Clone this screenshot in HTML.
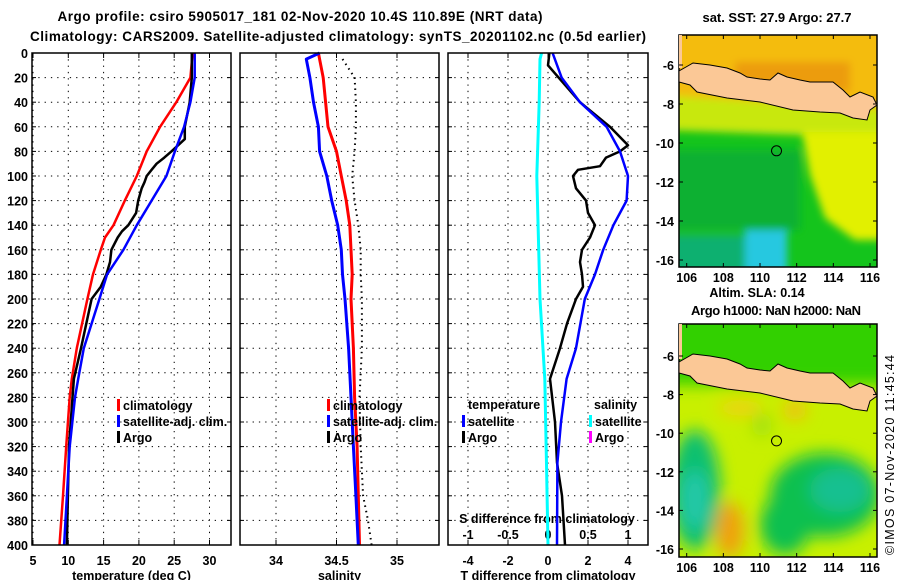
<!DOCTYPE html>
<html><head><meta charset="utf-8">
<style>
html,body{margin:0;padding:0;background:#fff;}
svg{display:block;font-family:"Liberation Sans",sans-serif;font-weight:bold;}
</style></head>
<body>
<svg id="fig" width="900" height="580" viewBox="0 0 900 580" xmlns="http://www.w3.org/2000/svg">
<defs>
<filter id="blur1" filterUnits="userSpaceOnUse" x="600" y="0" width="300" height="300"><feGaussianBlur stdDeviation="4"/></filter>
<filter id="blur2" filterUnits="userSpaceOnUse" x="600" y="290" width="300" height="290"><feGaussianBlur stdDeviation="8"/></filter>
<clipPath id="clipMap1"><rect x="679" y="35" width="198" height="232"/></clipPath>
<clipPath id="clipMap2"><rect x="679" y="324" width="198" height="233"/></clipPath>
</defs>
<text x="300" y="21" text-anchor="middle" font-size="13.5" textLength="485">Argo profile: csiro 5905017_181 02-Nov-2020 10.4S 110.89E (NRT data)</text>
<text x="338" y="41" text-anchor="middle" font-size="13.5" textLength="616">Climatology: CARS2009. Satellite-adjusted climatology: synTS_20201102.nc (0.5d earlier)</text>

<!-- Map 1 : SST -->
<g clip-path="url(#clipMap1)">
  <rect x="679" y="35" width="198" height="232" fill="#14c41c"/>
  <g filter="url(#blur1)">
    <rect x="660" y="20" width="240" height="90" fill="#f4bc10"/>
    <rect x="735" y="62" width="115" height="30" fill="#ec9c10"/>
    <polygon points="660,95 900,110 900,140 800,135 660,130" fill="#c8e810"/>
    <polygon points="802,132 900,132 900,240 855,240 825,218 810,175" fill="#e2f000"/>
    <rect x="745" y="228" width="42" height="45" fill="#28c8e0"/>
    <rect x="660" y="235" width="85" height="40" fill="#10b070"/>
    <rect x="660" y="150" width="140" height="80" fill="#08b032"/>
  </g>
</g>
<rect x="679" y="35" width="198" height="232" fill="none" stroke="#000" stroke-width="1.5"/>

<!-- Map 2 : SLA -->
<g clip-path="url(#clipMap2)">
  <rect x="679" y="324" width="198" height="233" fill="#c8f000"/>
  <g filter="url(#blur2)">
    <rect x="660" y="305" width="240" height="80" fill="#30d000"/>
    <ellipse cx="695" cy="490" rx="25" ry="60" fill="#10c070"/>
    <ellipse cx="695" cy="500" rx="14" ry="30" fill="#20c8a8"/>
    <ellipse cx="825" cy="495" rx="55" ry="42" fill="#10c050"/>
    <ellipse cx="840" cy="490" rx="30" ry="22" fill="#18c090"/>
    <ellipse cx="785" cy="525" rx="25" ry="30" fill="#10c050"/>
    <ellipse cx="730" cy="530" rx="14" ry="28" fill="#f0a010"/>
    <ellipse cx="795" cy="410" rx="12" ry="10" fill="#f0c010"/>
    <ellipse cx="740" cy="408" rx="22" ry="8" fill="#f0d010"/>
    <ellipse cx="762" cy="425" rx="10" ry="12" fill="#a0e010"/>
  </g>
</g>
<rect x="679" y="324" width="198" height="233" fill="none" stroke="#000" stroke-width="1.5"/>

<text x="777" y="22" text-anchor="middle" font-size="13" textLength="149">sat. SST: 27.9 Argo: 27.7</text>
<text x="757" y="297" text-anchor="middle" font-size="12.5">Altim. SLA: 0.14</text>
<text x="776" y="315" text-anchor="middle" font-size="13" textLength="170">Argo h1000: NaN h2000: NaN</text>
<text transform="translate(894,455) rotate(-90)" text-anchor="middle" font-size="12.5" font-weight="normal" textLength="200">©IMOS 07-Nov-2020 11:45:44</text>

<g id="plots"></g>
</svg>
<script>
// ---------- data ----------
const depthTicks = [0,20,40,60,80,100,120,140,160,180,200,220,240,260,280,300,320,340,360,380,400];
const tempTicks = [5,10,15,20,25,30];
const salTicks = [34,34.5,35];
const salTickLabels = ["34","34.5","35"];
const tdiffTicks = [-4,-2,0,2,4];
const sdiffTicks = [-1,-0.5,0,0.5,1];
const sdiffTickLabels = ["-1","-0.5","0","0.5","1"];

const tClimDepth = [0,20,40,60,80,100,120,140,150,160,180,200,240,265,280,320,360,400];
const tClim      = [27.6,27.3,25.3,23,21.1,19.7,18,16.4,15.2,14.6,13.5,12.7,11.2,10.5,10.2,9.7,9.25,8.75];
const tSatDepth  = [0,20,40,60,80,100,120,140,160,180,200,240,265,280,320,360,400];
const tSat       = [27.9,27.9,27.3,26.4,25.1,23.9,21.8,19.7,17.8,15.5,14.4,12.2,11.4,10.95,10.2,9.8,9.4];
const tArgoDepth = [0,20,40,60,70,80,85,90,95,100,105,110,120,130,140,145,150,160,170,180,190,200,240,265,280,320,360,400];
const tArgo      = [27.5,27.5,27.2,26.5,26.5,24.6,23.6,22.5,21.8,21.1,20.8,20.4,19.9,19.6,18.5,17.6,17,16.1,15.9,15.4,14.6,13.3,11.8,10.8,10.6,10.1,9.95,9.8];

const sClimDepth = [0,20,40,60,80,100,120,140,160,180,200,240,280,320,360,400];
const sClim      = [34.35,34.39,34.41,34.43,34.5,34.54,34.58,34.61,34.62,34.63,34.62,34.64,34.65,34.67,34.68,34.69];
const sSatDepth  = [0,5,20,40,60,80,100,120,140,160,180,200,240,280,320,360,400];
const sSat       = [34.36,34.25,34.28,34.31,34.35,34.36,34.42,34.46,34.51,34.54,34.55,34.57,34.6,34.62,34.64,34.66,34.68];
const sArgoDepth = [5,20,40,60,80,100,120,140,160,180,200,240,280,320,340,360,380,400];
const sArgo      = [34.55,34.65,34.66,34.66,34.65,34.63,34.65,34.68,34.7,34.7,34.71,34.71,34.69,34.7,34.71,34.72,34.76,34.79];

const dSatDepth  = [0,20,40,60,80,100,120,140,160,180,200,240,265,300,333,400];
const dSat       = [0.23,0.68,1.6,2.93,3.6,4.0,3.93,3.27,2.76,2.35,1.84,1.4,0.93,0.65,0.47,0.45];
const dArgoDepth = [0,10,20,40,60,70,75,80,85,92,95,100,110,120,130,140,150,160,170,180,190,200,220,240,265,300,333,360,400];
const dArgo      = [0.07,0.0,0.53,1.6,3.1,3.7,4.0,3.6,2.9,2.6,1.5,1.25,1.4,1.9,2.0,2.35,2.1,1.7,1.6,1.7,1.75,1.4,0.95,0.6,0.1,0.35,0.45,0.7,0.85];
const dsSatDepth = [0,5,40,100,200,265,330,400];
const dsSat      = [-0.08,-0.1,-0.11,-0.14,-0.1,-0.04,-0.02,0.0];

// ---------- scales ----------
const yD = d => 53 + d*1.23;
const xT = t => 33 + (t-5)*7.06;
const xS = s => 276 + (s-34)*121;
const xTd = v => 548 + v*20;
const xSd = v => 548 + v*80;

const NS = "http://www.w3.org/2000/svg";
const root = document.getElementById('plots');
function mk(tag, attrs, parent){
  const e = document.createElementNS(NS, tag);
  for (const k in attrs) e.setAttribute(k, attrs[k]);
  (parent||root).appendChild(e);
  return e;
}
function txt(x,y,s,size,anchor){
  const t = mk('text',{x:x,y:y,'font-size':size,'text-anchor':anchor||'middle'});
  t.textContent = s;
  return t;
}
const panels = [
  {x0:32,x1:231,ticks:tempTicks,labels:tempTicks.map(String),sx:xT,name:'temperature-panel',title:'temperature (deg C)'},
  {x0:240,x1:439,ticks:salTicks,labels:salTickLabels,sx:xS,name:'salinity-panel',title:'salinity'},
  {x0:448,x1:648,ticks:tdiffTicks,labels:tdiffTicks.map(String),sx:xTd,name:'difference-panel',title:'T difference from climatology'}
];
panels.forEach(p=>{
  const g = mk('g',{});
  
  
  depthTicks.forEach(d=>{
    const l = mk('line',{x1:p.x0,x2:p.x1,y1:yD(d),y2:yD(d),stroke:'#000','stroke-width':1,'stroke-dasharray':'1.3,5'},g);
    
    
    mk('line',{x1:p.x0,x2:p.x0+4,y1:yD(d),y2:yD(d),stroke:'#000'},g);
    mk('line',{x1:p.x1-4,x2:p.x1,y1:yD(d),y2:yD(d),stroke:'#000'},g);
  });
  p.ticks.forEach((t,i)=>{
    const x = p.sx(t);
    const l = mk('line',{x1:x,x2:x,y1:53,y2:545,stroke:'#000','stroke-width':1,'stroke-dasharray':'1.3,5'},g);
    
    
    mk('line',{x1:x,x2:x,y1:53,y2:58,stroke:'#000'},g);
    mk('line',{x1:x,x2:x,y1:540,y2:545,stroke:'#000'},g);
    const lab = txt(x,565,p.labels[i],12.5);
    
    
  });
  const at = txt((p.x0+p.x1)/2,580,p.title,12.5);
  
  
});
depthTicks.forEach(d=>{
  const t = txt(28,yD(d)+5,String(d),12.5,'end');
  
  
});
const sdt = txt(547,523,'S difference from climatology',12.5);


sdiffTicks.forEach((v,i)=>{
  const t = txt(xSd(v),539,sdiffTickLabels[i],12.5);
  
  
});

function line(depths, vals, sx, color, w, dash){
  const pts = depths.map((d,i)=>sx(vals[i]).toFixed(1)+','+yD(d).toFixed(1)).join(' ');
  const a = {points:pts,fill:'none',stroke:color,'stroke-width':w,'stroke-linejoin':'round'};
  if (dash) a['stroke-dasharray']=dash;
  return mk('polyline',a);
}
let e;
e = line(tClimDepth,tClim,xT,'#f00',2.5);  
e = line(tArgoDepth,tArgo,xT,'#000',2.5);  
e = line(tSatDepth,tSat,xT,'#00f',2.5);  
e = line(sArgoDepth,sArgo,xS,'#000',2,'1.5,4');  
e = line(sClimDepth,sClim,xS,'#f00',3);  
e = line(sSatDepth,sSat,xS,'#00f',3);  
e = line(dsSatDepth,dsSat,xSd,'#0ff',3);  
e = line(dArgoDepth,dArgo,xTd,'#000',2.5);  
e = line(dSatDepth,dSat,xTd,'#00f',2.5);  

panels.forEach(p=>{
  const r = mk('rect',{x:p.x0,y:53,width:p.x1-p.x0,height:492,fill:'none',stroke:'#000','stroke-width':1.5});
  
  
});

function leg(x,y,color,label){
  const g = mk('g',{});
  
  
  mk('rect',{x:x,y:y-10,width:3,height:12,fill:color},g);
  const t = mk('text',{x:x+6,y:y+1,'font-size':12.5},g);
  t.textContent = label;
}
leg(117,409,'#f00','climatology'); leg(117,425,'#00f','satellite-adj. clim.'); leg(117,441,'#000','Argo');
leg(327,409,'#f00','climatology'); leg(327,425,'#00f','satellite-adj. clim.'); leg(327,441,'#000','Argo');
e = txt(468,409,'temperature',12.5,'start');  
e = txt(594,409,'salinity',12.5,'start');  
leg(462,425,'#00f','satellite'); leg(462,441,'#000','Argo');
leg(589,425,'#0ff','satellite'); leg(589,441,'#f0f','Argo');

// ---------- maps ----------
const javaRel = [[679,6],[686,2],[693,-2],[710,0],[727,3],[740,8],[747,12],[760,14],[770,15],[778,8],[787,12],[800,15],[810,17],[825,17],[833,17],[843,25],[850,32],[860,27],[873,32],[877,40],[870,45],[867,55],[853,53],[840,48],[820,47],[793,45],[760,37],[727,33],[697,27],[690,20],[679,17]];
const maps = [
  {y6:65,top:35,bot:267,name:'sst-map'},
  {y6:356,top:324,bot:557,name:'sla-map'}
];
const lonTicks=[106,108,110,112,114,116];
const latTicks=[-6,-8,-10,-12,-14,-16];
const svg = document.getElementById('fig');
maps.forEach((m,mi)=>{
  const g = mk('g',{'clip-path':'url(#clipMap'+(mi+1)+')'},svg);
  const pts = javaRel.map(p=>p[0]+','+(p[1]+m.y6)).join(' ');
  const land = mk('polygon',{points:pts,fill:'#fbc896',stroke:'#000','stroke-width':1},g);
  
  
  mk('rect',{x:679,y:m.top,width:3,height:m.y6+3-m.top,fill:'#fbc896'},g);
  const sc = m.y6===65?19.5:19.3;
  const circ = mk('circle',{cx:686.7+(110.9-106)*18.33,cy:m.y6+4.4*sc,r:5,fill:'none',stroke:'#000','stroke-width':1},svg);
  
  
  lonTicks.forEach(lo=>{
    const x = 686.7+(lo-106)*18.33;
    mk('line',{x1:x,x2:x,y1:m.top,y2:m.top+4,stroke:'#000'},svg);
    mk('line',{x1:x,x2:x,y1:m.bot-4,y2:m.bot,stroke:'#000'},svg);
    const t = txt(x,m.bot+15,String(lo),12.5);
    
    
  });
  latTicks.forEach(la=>{
    const y = m.y6+(-6-la)*sc;
    mk('line',{x1:679,x2:683,y1:y,y2:y,stroke:'#000'},svg);
    mk('line',{x1:873,x2:877,y1:y,y2:y,stroke:'#000'},svg);
    const t = txt(674,y+5,String(la),12.5,'end');
    
    
  });
});
</script>
</body></html>
